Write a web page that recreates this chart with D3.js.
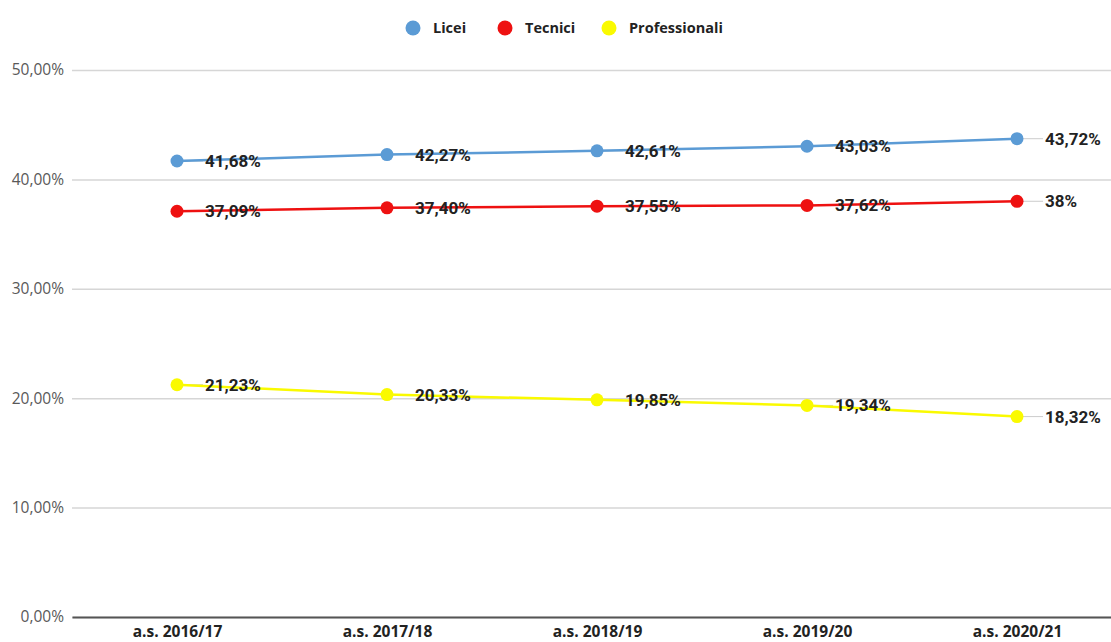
<!DOCTYPE html>
<html>
<head>
<meta charset="utf-8">
<title>Licei Tecnici Professionali</title>
<script src="https://d3js.org/d3.v7.min.js"></script>
<style>
  body { margin: 0; background: #fff; }
  svg { display: block; }
</style>
</head>
<body>
<div id="chart"></div>
<script>
// chart data
var years = ["a.s. 2016/17", "a.s. 2017/18", "a.s. 2018/19", "a.s. 2019/20", "a.s. 2020/21"];
var seriesNames = ["Licei", "Tecnici", "Professionali"];
var licei = [41.68, 42.27, 42.61, 43.03, 43.72];
var tecnici = [37.09, 37.40, 37.55, 37.62, 38];
var professionali = [21.23, 20.33, 19.85, 19.34, 18.32];
var yTicks = [0, 10, 20, 30, 40, 50];

var colors = ["#5b9bd5", "#ee1111", "#fafa00"];
var seriesValues = [licei, tecnici, professionali];

var width = 1111, height = 642;
var margin = {top: 70, right: -11, bottom: 25, left: 72};
var innerW = width - margin.left - margin.right,
    innerH = height - margin.top - margin.bottom;

var svg = d3.select("#chart").append("svg")
    .attr("width", width)
    .attr("height", height);

var g = svg.append("g")
    .attr("transform", "translate(" + margin.left + "," + margin.top + ")");

var x = d3.scalePoint().domain(years).range([0, innerW]).padding(0.5);
var y = d3.scaleLinear().domain([0, 50]).range([innerH, 0]);

var pct = function(v) {
  return Number.isInteger(v) ? v + "%" : v.toFixed(2).replace(".", ",") + "%";
};

// gridlines + y labels
var yAxis = g.append("g")
    .call(d3.axisLeft(y).tickValues(yTicks).tickSize(-innerW)
      .tickFormat(function(d) { return d.toFixed(2).replace(".", ",") + "%"; }));
yAxis.select(".domain").remove();
yAxis.selectAll(".tick line")
    .attr("stroke", "#d6d6d6")
    .attr("stroke-width", 1.5);
yAxis.selectAll(".tick text")
    .attr("x", -8)
    .attr("fill", "#595959")
    .style("font-family", "'Open Sans', sans-serif")
    .style("font-size", "15.5px");

// x axis
var xAxis = g.append("g")
    .attr("transform", "translate(0," + innerH + ")")
    .call(d3.axisBottom(x).tickSize(0).tickPadding(9));
xAxis.select(".domain")
    .attr("stroke", "#555")
    .attr("stroke-width", 2);
xAxis.selectAll(".tick text")
    .attr("fill", "#222")
    .style("font-family", "'Open Sans', sans-serif")
    .style("font-weight", "bold")
    .style("font-size", "15.5px");

var line = d3.line()
    .x(function(d, i) { return x(years[i]); })
    .y(function(d) { return y(d); });

seriesValues.forEach(function(vals, s) {
  var sg = g.append("g");

  // leader lines to labels
  sg.selectAll("line.leader")
    .data(vals)
    .enter().append("line")
    .attr("x1", function(d, i) { return x(years[i]); })
    .attr("x2", function(d, i) { return x(years[i]) + 26; })
    .attr("y1", function(d) { return y(d); })
    .attr("y2", function(d) { return y(d); })
    .attr("stroke", "#ccc")
    .attr("stroke-width", 1);

  sg.append("path")
    .datum(vals)
    .attr("fill", "none")
    .attr("stroke", colors[s])
    .attr("stroke-width", 2.5)
    .attr("d", line);

  sg.selectAll("circle")
    .data(vals)
    .enter().append("circle")
    .attr("cx", function(d, i) { return x(years[i]); })
    .attr("cy", function(d) { return y(d); })
    .attr("r", 6.5)
    .attr("fill", colors[s]);

  sg.selectAll("text")
    .data(vals)
    .enter().append("text")
    .attr("x", function(d, i) { return x(years[i]) + 28; })
    .attr("y", function(d) { return y(d); })
    .attr("dy", "0.35em")
    .attr("fill", "#222")
    .style("font-family", "Roboto, sans-serif")
    .style("font-weight", "bold")
    .style("font-size", "17px")
    .text(pct);
});

// legend
var legendX = [413, 505, 609];
var legend = svg.append("g");
seriesNames.forEach(function(name, i) {
  legend.append("circle")
    .attr("cx", legendX[i])
    .attr("cy", 28)
    .attr("r", 7.5)
    .attr("fill", colors[i]);
  legend.append("text")
    .attr("x", legendX[i] + 20)
    .attr("y", 28)
    .attr("dy", "0.35em")
    .attr("fill", "#222")
    .style("font-family", "'Open Sans', sans-serif")
    .style("font-weight", "bold")
    .style("font-size", "14.5px")
    .text(name);
});
</script>
</body>
</html>
